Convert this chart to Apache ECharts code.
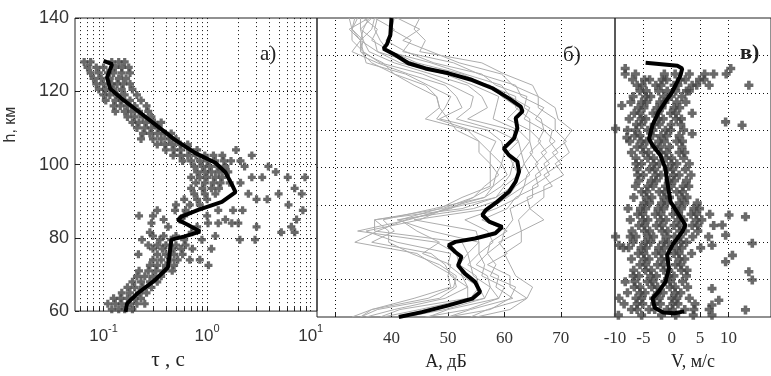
<!DOCTYPE html>
<html>
<head>
<meta charset="utf-8">
<script src="https://cdn.jsdelivr.net/npm/echarts@6/dist/echarts.min.js"></script>
<style>
  html, body { margin: 0; padding: 0; background: #fff; }
  #main { width: 771px; height: 376px; }
</style>
</head>
<body>
<div id="main"></div>
<script>
// dotted grid positions per panel
const tauGrid = [0.06, 0.07, 0.08, 0.09, 0.1, 0.2, 0.3, 0.4, 0.5, 0.6, 0.7, 0.8, 0.9, 1, 2, 3, 4, 5, 6, 7, 8, 9, 10]
const tauHGrid = [80, 100, 120]
const ampGrid = [30, 40, 50, 60, 70]
const ampHGrid = [70, 90, 100, 110, 130]
const velGrid = [-5, 0, 5, 10]
const velHGrid = [70, 80, 90, 100, 110, 120, 130]
const ampLabels = [40, 50, 60, 70]
const ampTicks = [30, 40, 50, 60, 70]
const velLabels = [-10, -5, 0, 5, 10]
const velTicks = [-5, 0, 5, 10]
const tauTicks = [0.06, 0.07, 0.08, 0.09, 0.1, 0.2, 0.3, 0.4, 0.5, 0.6, 0.7, 0.8, 0.9, 1, 2, 3, 4, 5, 6, 7, 8, 9]

// а) tau, s : scatter rows [h, [tau...]] and mean profile [tau, h]
const tauRows = [
  [128, [0.065, 0.075, 0.12, 0.14, 0.16]],
  [126.5, [0.07, 0.085, 0.1, 0.13, 0.15, 0.175]],
  [125, [0.075, 0.09, 0.11, 0.125, 0.15, 0.18]],
  [123.5, [0.08, 0.095, 0.115, 0.14, 0.165]],
  [122, [0.085, 0.1, 0.12, 0.135, 0.155, 0.18]],
  [120.5, [0.09, 0.105, 0.125, 0.15, 0.19]],
  [119, [0.1, 0.115, 0.135, 0.16, 0.21]],
  [117.5, [0.105, 0.13, 0.15, 0.18, 0.23]],
  [116, [0.125, 0.145, 0.17, 0.2, 0.26]],
  [114.5, [0.13, 0.16, 0.185, 0.22, 0.27]],
  [113, [0.17, 0.2, 0.24, 0.29]],
  [111.5, [0.19, 0.22, 0.26, 0.31, 0.36]],
  [110, [0.21, 0.25, 0.29, 0.34]],
  [108.5, [0.24, 0.28, 0.33, 0.39, 0.45]],
  [107, [0.23, 0.3, 0.36, 0.43, 0.5]],
  [105.5, [0.33, 0.39, 0.46, 0.55, 0.65]],
  [104, [0.4, 0.48, 0.56, 0.68, 0.8, 1.9]],
  [102.5, [0.47, 0.55, 0.65, 0.78, 0.95, 1.15, 1.4, 2.7]],
  [101, [0.58, 0.7, 0.85, 1.0, 1.2, 1.45, 1.7, 2.1]],
  [99.5, [0.75, 0.9, 1.05, 1.25, 1.5, 2.3, 3.9]],
  [98, [0.8, 0.95, 1.1, 1.3, 1.6, 4.6]],
  [96.5, [0.7, 0.85, 1.0, 1.2, 1.4, 2.7, 3.4, 6.0, 8.8]],
  [95, [0.78, 0.95, 1.15, 1.35, 1.65, 2.1]],
  [93.5, [0.7, 0.9, 1.1, 1.3, 7.0]],
  [92, [0.75, 0.95, 1.2, 2.5, 4.9, 8.2]],
  [90.5, [0.6, 0.8, 1.0, 3.0, 3.8]],
  [89, [0.5, 0.68, 0.85, 6.1]],
  [87.5, [0.33, 0.49, 0.62, 1.28, 1.78, 2.2, 8.4]],
  [86, [0.22, 0.3, 0.6, 1.0]],
  [85, [0.38, 0.55, 1.5, 7.3]],
  [84, [0.29, 1.02, 1.28, 1.73, 2.0]],
  [83, [0.42, 0.8, 3.0, 6.5]],
  [81.5, [0.28, 0.71, 5.2, 7.0]],
  [80.5, [0.3, 0.38, 0.5, 1.2]],
  [79.5, [0.235, 0.35, 0.45, 0.6, 0.89, 2.07, 2.9]],
  [78, [0.27, 0.33, 0.4, 0.5, 0.62]],
  [77, [0.3, 0.37, 0.46, 0.56, 0.72, 1.1]],
  [75.5, [0.217, 0.33, 0.4, 0.48, 0.58]],
  [74, [0.3, 0.36, 0.44, 0.52, 0.68, 0.85]],
  [72.5, [0.28, 0.33, 0.4, 0.48, 1.03]],
  [71, [0.22, 0.27, 0.32, 0.38, 0.46]],
  [69.5, [0.21, 0.25, 0.3, 0.36]],
  [68, [0.19, 0.23, 0.28, 0.33]],
  [66.5, [0.17, 0.2, 0.24, 0.29]],
  [65, [0.15, 0.18, 0.22, 0.26]],
  [63.5, [0.125, 0.145, 0.17, 0.2, 0.23]],
  [62, [0.11, 0.13, 0.15, 0.18, 0.21, 0.25]],
  [60.5, [0.12, 0.14, 0.16, 0.19]]
]
const tauMean = [
  [0.100, 128.3], [0.121, 127.4], [0.108, 123.8], [0.116, 120.7], [0.157, 117.5], [0.229, 114],
  [0.333, 110.4], [0.486, 106.8], [0.763, 103.2], [1.20, 100.5], [1.50, 97.9], [1.75, 94.3],
  [1.88, 92.5], [1.39, 89.8], [0.82, 87.6], [0.565, 85.8], [0.523, 84.9], [0.656, 83.5],
  [0.854, 81.7], [0.608, 80.4], [0.451, 79.5], [0.434, 75.5], [0.418, 71.9], [0.309, 68.3],
  [0.212, 64.8], [0.169, 62.1], [0.163, 59.8]
]

// б) A, dB : individual profiles at these heights, plus the mean
const ampH = [140, 137, 134, 131, 128, 125, 122, 119, 116, 113, 110, 107, 104, 101, 98, 95, 92, 89, 86, 83, 80, 77, 74, 71, 68, 65, 62, 60]
const ampProfiles = [
  [45, 44, 46, 45, 56, 60, 65, 66, 69, 69.5, 72, 70.5, 71.5, 69, 70.5, 67, 67, 64.5, 67, 63, 63, 60, 61, 62, 65, 64, 61, 55],
  [41, 45, 42, 47, 52, 59.5, 61.5, 66, 66, 69, 69, 71, 68.5, 70, 67, 68.5, 64, 64.5, 62.5, 63, 59, 60.5, 57, 61, 61, 64, 57, 54],
  [40.5, 40, 43.5, 42, 51, 55.5, 62, 63, 67, 65.5, 68.5, 68, 69.5, 67, 68, 65, 65, 61, 61.5, 60, 59.5, 57, 58.5, 57.5, 62, 61, 57.5, 50],
  [37, 40.5, 39, 42.5, 47.5, 56, 58.5, 64, 63.5, 66.5, 67, 69, 66.5, 68, 65.5, 66, 62, 60.5, 56, 60.5, 57.5, 57, 55, 59, 58.5, 61.5, 54, 50],
  [37.5, 37, 38, 39.5, 47, 53, 59.5, 61, 64.5, 63.5, 67, 66, 67.5, 65.5, 66.5, 63.5, 62.5, 58.5, 53, 57, 58, 55.5, 56.5, 56, 60, 59, 53.5, 46],
  [35, 37.5, 36.5, 40, 44.5, 52.5, 57, 62, 62, 64.5, 64.5, 66.5, 64.5, 66, 64, 63.5, 60.5, 57.5, 44, 55, 55.5, 55.5, 53.5, 57, 57.5, 59, 50, 46.5],
  [34.5, 34.5, 37, 37.5, 44, 50, 57.5, 59.5, 62.5, 60.5, 64.5, 64.5, 65, 63.5, 64.5, 62, 60.5, 54.5, 41, 47, 55.5, 53.5, 54, 54.5, 57.5, 56.5, 49.5, 42.5],
  [36, 35, 34.5, 37.5, 41.5, 49.5, 54.5, 59, 58.5, 58, 62.5, 64.5, 63, 63.5, 62.5, 61.5, 58.5, 52.5, 37, 37, 52.5, 53.5, 52, 55, 55.5, 56.5, 46, 41.5],
  [33.5, 33, 35, 36, 40.5, 47, 53.5, 56, 57, 53.5, 61.5, 62.5, 63, 61.5, 62.5, 60, 58.5, 50, 43, 34, 48, 51.5, 52, 52.5, 55.5, 54, 45, 38.5],
  [34, 33, 34.5, 35, 38, 45.5, 50.5, 54.5, 54, 51.5, 58.5, 62.5, 60.5, 61.5, 61, 59.5, 56.5, 49.5, 45, 35.5, 41, 50.5, 50, 52.5, 53.5, 53.5, 41.5, 38],
  [36, 32.5, 34.5, 33, 37.5, 43, 49.5, 51.5, 52.5, 48.5, 57, 59.5, 60, 59.5, 60.5, 58, 56.5, 47.5, 38.5, 40.5, 36.5, 47, 49.5, 50.5, 53.5, 49.5, 40.5, 35.5],
  [32.5, 33, 33, 35, 35.5, 42.5, 46.5, 50.5, 49.5, 48, 54, 58.5, 57.5, 59.5, 58.5, 58, 54.5, 50.5, 42.5, 37.5, 33.5, 44.5, 47.5, 51, 51.5, 48.5, 37.5, 34.5],
  [36.5, 34.5, 35, 34.5, 38.5, 40.5, 46, 48, 48.5, 46, 53.5, 55.5, 57.5, 57.5, 59, 56.5, 54.5, 49, 37, 39.5, 39.5, 43.5, 48.5, 51.5, 51, 46.5, 36.5, 33],
  [37, 36.5, 34.5, 34.5, 36.5, 40.5, 44, 48, 48.5, 50, 51.5, 55.5, 55.5, 57.5, 57.5, 57.5, 52.5, 48.5, 41.5, 44.5, 48.5, 45.5, 50.5, 50, 50.5, 44, 36.5, 34.5]
]
const ampMean = [
  [40, 140], [39.8, 135.5], [39.2, 133], [38.6, 131.8], [40.7, 130.1], [43, 127.9], [46, 126.5],
  [50.1, 125.2], [54.3, 123.4], [57.9, 121.2], [60.8, 118.5], [62.9, 116.3], [63.2, 115], [62, 113.2],
  [62.3, 110.5], [61.7, 107.8], [59.9, 105.1], [60.8, 103.3], [62.3, 101.6], [62.6, 98.9], [62, 96.2],
  [60.8, 93.5], [58.7, 90.8], [56.7, 88.6], [56.1, 87.3], [57.3, 85.5], [59.6, 84.1], [58.4, 82.4],
  [54.8, 81], [51.3, 80.1], [50.1, 79.2], [51.3, 77.4], [52.4, 76.1], [51.8, 73.8], [53, 71.6],
  [54.8, 69.4], [55.7, 66.7], [54.3, 64.9], [50.1, 63.1], [45.4, 61.3], [41.3, 60]
]

// в) V, m/s : scatter rows [h, [V...]], isolated points and mean
const velRows = [
  [125, [-8.2, -6.4, -1.3, 0.6, 3.1, 5.8, 7.4, 9.6]],
  [123.5, [-6.9, -4.8, -3.9, -1.7, -0.9, 1.5, 2.4, 4.9, 5.7]],
  [122, [-6.1, -5.2, -2.8, -1.9, 0.4, 1.1, 3.6, 4.4, 6.6]],
  [120.5, [-5.6, -4.5, -2.3, -0.8, 0.7, 2.6, 3.1]],
  [119, [-6.8, -4.6, -3.7, -1.4, -0.1, 1.8]],
  [117.5, [-7.2, -5.3, -4.4, -2.1, -1.2, 0.9, 2.5]],
  [116, [-5.9, -4.9, -2.6, -1.7, 0.4, 1.4]],
  [114.5, [-6.6, -5.6, -3.3, -2.4, -0.2, 0.7, 3.6]],
  [113, [-7.5, -5.4, -4.6, -2.4, -1.5, 0.8, 1.7]],
  [111.5, [-6.2, -5.3, -3.1, -2.2, -0.1, 1.6]],
  [110, [-7.8, -6.3, -4.2, -3.3, -1.1, -0.2, 2.1]],
  [108.5, [-6.5, -5.6, -3.4, -1.9, -0.9, 1.3]],
  [107, [-7.4, -5.4, -4.4, -2.3, -1.3, 0.9, 1.9]],
  [105.5, [-6.1, -5.1, -3, -2, -0.4, 1.8]],
  [104, [-7.1, -5, -4.1, -1.9, -0.9, 1.3, 2.3]],
  [102.5, [-6.3, -4.2, -3.2, -1, 0, 2.1]],
  [101, [-6.3, -5.3, -3.2, -2.2, -0.1, 0.9, 3.1]],
  [99.5, [-6.1, -3.9, -3, -0.8, 0.2, 2.4]],
  [98, [-6, -5, -2.8, -1.9, 0.3, 1.3, 3.4]],
  [96.5, [-5.8, -3.6, -2.7, -0.5, 0.5, 2.6]],
  [95, [-6.4, -4.2, -3.3, -1.1, -0.1, 2, 3]],
  [93.5, [-5.3, -4.4, -2.2, -1.2, 0.9, 1.9]],
  [92, [-6.7, -4.5, -3.5, -1.4, -0.4, 1.7, 2.7]],
  [90.5, [-4.9, -3.9, -1.8, -0.8, 1.3, 2.3, 4.5]],
  [89, [-7.7, -5.5, -4.6, -2.4, -1.4, 0.7, 1.7, 3.9, 4.9]],
  [87.5, [-6, -5.1, -2.9, -1.9, 0.2, 1.2, 3.4, 4.4, 6.7]],
  [86, [-7.3, -5.1, -4.2, -2, -1, 1.1, 2.1, 4.3, 5.3]],
  [84.5, [-5.8, -4.8, -2.7, -1.7, 0.4, 1.4, 3.6, 4.6, 7.4]],
  [83, [-7, -4.8, -3.9, -1.7, -0.7, 1.4, 2.4, 4.6]],
  [81.5, [-7.3, -6.3, -4.2, -3.2, -1, 0.5, 1.5, 3.7, 6.5]],
  [80, [-6.8, -4.7, -3.7, -1.5, -0.6, 1.6, 2.6]],
  [78.5, [-8.5, -7.6, -5.4, -4.5, -2.3, -1.3, 0.8, 1.8, 5.1]],
  [77, [-5.9, -4.9, -2.8, -1.8, 0.4, 1.3, 3.5]],
  [75.5, [-7.1, -4.9, -4, -1.8, -0.8, 1.3, 2.3]],
  [74, [-5.6, -4.6, -2.5, -1.5, 0.7, 1.6]],
  [72.5, [-6.7, -4.6, -3.6, -1.4, -0.5, 1.7, 2.7]],
  [71, [-6.8, -5.8, -3.7, -2.7, -0.5, 0.4, 2.6]],
  [69.5, [-6.5, -4.3, -3.3, -1.2, -0.2, 1.9]],
  [68, [-6.6, -5.6, -3.5, -2.5, -0.3, 0.6, 2.8]],
  [66.5, [-7.8, -5.6, -4.7, -2.5, -1.5, 0.6, 1.6]],
  [65, [-6.3, -5.3, -3.2, -2.2, 0, 0.9, 3.1]],
  [63.5, [-8.4, -6.1, -5.1, -3, -2, 0.2, 1.1, 4.1]],
  [62, [-7.1, -6.1, -4, -3, -0.8, 0.1, 2.3, 3.9, 6.6]],
  [60.5, [-9.4, -5.3, -1.8, 0.7, 3.8, 7.1]]
]
const velOutliers = [
  [-8.2, 126.5], [10.4, 126.5], [13.6, 122], [-8.8, 116.6], [-9.9, 110.4], [-7.9, 108], [9.5, 112.2],
  [12.4, 111.3], [3.6, 109], [10.1, 87.3], [13, 86.8], [8.9, 84.6], [9.5, 81.9], [-9.9, 81.5],
  [-9.3, 79.2], [7.1, 79.2], [14.2, 79.7], [9.5, 74.8], [13.6, 72.1], [10.7, 76.5], [-8.2, 69.4],
  [-9.3, 65], [7.1, 67.6], [8.3, 64.5], [14.2, 69.9], [13, 61.9], [7.1, 63.2]
]
const velMean = [
  [-4.6, 128], [1, 127.2], [1.85, 126.5], [1.55, 124.7], [0.97, 122.9], [0.09, 120.2], [-1.1, 117.6],
  [-2.3, 114.9], [-3.4, 111.3], [-4, 107.7], [-3.4, 106], [-2, 103.3], [-1.1, 99.7], [-0.8, 96.2],
  [-0.2, 90.8], [1.3, 87.3], [2.4, 84.6], [1.85, 82.8], [0.1, 79.2], [-0.8, 76.6], [-0.5, 73],
  [-1.1, 69.4], [-2.3, 66.8], [-3.4, 65], [-3, 62.5], [-1.5, 61.2], [0.5, 61], [2.2, 61.5]
]

const flatRows = rows => rows.flatMap(([h, xs]) => xs.map(x => [x, h]))
const plus = 'path://M3,0H7V3H10V7H7V10H3V7H0V3H3Z'
const serif = 'Liberation Serif'
const sans = 'Liberation Sans'

function gridLines(xs, ys, i) {
  return {
    type: 'line', xAxisIndex: i, yAxisIndex: i, data: [], silent: true,
    markLine: {
      silent: true, z: 1, symbol: ['none', 'none'], label: { show: false },
      lineStyle: { type: [1, 3], color: '#111', width: 1 },
      emphasis: { disabled: true },
      data: xs.map(v => ({ xAxis: v })).concat(ys.map(v => ({ yAxis: v })))
    }
  }
}

function hAxis(i, show) {
  return {
    type: 'value', gridIndex: i, min: 60, max: 140, interval: 20,
    show: show,
    axisLine: { show: false },
    axisTick: { show: show, inside: true, length: 4, lineStyle: { color: '#222' } },
    axisLabel: { show: show, margin: 6, fontFamily: sans, fontSize: 18, color: '#333' },
    splitLine: { show: false },
    name: show ? 'h, км' : '', nameLocation: 'middle', nameRotate: 90, nameGap: 56,
    nameTextStyle: { fontFamily: sans, fontSize: 16, color: '#333', padding: [0, 0, 0, 80] }
  }
}

const chart = echarts.init(document.getElementById('main'), null, { renderer: 'canvas' })

chart.setOption({
  animation: false,
  backgroundColor: '#fff',
  title: [
    { text: 'а)', left: 255, top: 39, textStyle: { fontFamily: serif, fontSize: 21, fontWeight: 'normal', color: '#222' } },
    { text: 'б)', left: 558, top: 40, textStyle: { fontFamily: serif, fontSize: 21, fontWeight: 'normal', color: '#222' } },
    { text: 'в)', left: 735, top: 37, textStyle: { fontFamily: serif, fontSize: 22, fontWeight: 'bold', color: '#222' } }
  ],
  grid: [
    { left: 75, top: 18, width: 242, height: 299, show: true, borderColor: '#222', borderWidth: 1 },
    { left: 317, top: 18, width: 298, height: 299, show: true, borderColor: '#222', borderWidth: 1 },
    { left: 615, top: 18, width: 157, height: 299, show: true, borderColor: '#222', borderWidth: 1 }
  ],
  xAxis: [
    {
      type: 'log', logBase: 10, gridIndex: 0, min: 0.053, max: 11.5,
      axisLine: { show: false },
      axisTick: { inside: true, length: 4, customValues: tauTicks, lineStyle: { color: '#222' } },
      splitLine: { show: false },
      axisLabel: {
        margin: 12, showMinLabel: false, showMaxLabel: false,
        formatter: v => '{b|10}{s|' + Math.round(Math.log10(v)) + '}',
        rich: {
          b: { fontFamily: sans, fontSize: 17, color: '#333', verticalAlign: 'bottom', lineHeight: 22 },
          s: { fontFamily: sans, fontSize: 11, color: '#333', verticalAlign: 'top', lineHeight: 22 }
        }
      },
      name: 'τ , с', nameLocation: 'middle', nameGap: 34,
      nameTextStyle: { fontFamily: serif, fontSize: 21, color: '#222', padding: [0, 56, 0, 0] }
    },
    {
      type: 'value', gridIndex: 1, min: 26.8, max: 79.6,
      axisLine: { show: false },
      axisTick: { inside: true, length: 4, customValues: ampTicks, lineStyle: { color: '#222' } },
      splitLine: { show: false },
      axisLabel: { customValues: ampLabels, margin: 13, fontFamily: serif, fontSize: 17, color: '#333' },
      name: 'A, дБ', nameLocation: 'middle', nameGap: 36,
      nameTextStyle: { fontFamily: serif, fontSize: 18, color: '#222', padding: [0, 40, 0, 0] }
    },
    {
      type: 'value', gridIndex: 2, min: -10, max: 17.5,
      axisLine: { show: false },
      axisTick: { inside: true, length: 4, customValues: velTicks, lineStyle: { color: '#222' } },
      splitLine: { show: false },
      axisLabel: { customValues: velLabels, margin: 13, fontFamily: serif, fontSize: 17, color: '#333' },
      name: 'V, м/с', nameLocation: 'middle', nameGap: 36,
      nameTextStyle: { fontFamily: serif, fontSize: 18, color: '#222' }
    }
  ],
  yAxis: [hAxis(0, true), hAxis(1, false), hAxis(2, false)],
  series: [
    gridLines(tauGrid, tauHGrid, 0),
    gridLines(ampGrid, ampHGrid, 1),
    gridLines(velGrid, velHGrid, 2),
    {
      type: 'scatter', xAxisIndex: 0, yAxisIndex: 0, z: 2, silent: true,
      symbol: plus, symbolSize: 8, itemStyle: { color: '#454545' },
      data: flatRows(tauRows)
    },
    {
      type: 'line', xAxisIndex: 0, yAxisIndex: 0, z: 3, silent: true, symbol: 'none',
      lineStyle: { color: '#000', width: 4 }, data: tauMean
    },
    ...ampProfiles.map(p => ({
      type: 'line', xAxisIndex: 1, yAxisIndex: 1, z: 2, silent: true, symbol: 'none',
      lineStyle: { color: '#adadad', width: 1 },
      data: p.map((a, i) => [a, ampH[i]])
    })),
    {
      type: 'line', xAxisIndex: 1, yAxisIndex: 1, z: 3, silent: true, symbol: 'none',
      lineStyle: { color: '#000', width: 4 }, data: ampMean
    },
    {
      type: 'scatter', xAxisIndex: 2, yAxisIndex: 2, z: 2, silent: true,
      symbol: plus, symbolSize: 9, itemStyle: { color: '#454545' },
      data: flatRows(velRows).concat(velOutliers)
    },
    {
      type: 'line', xAxisIndex: 2, yAxisIndex: 2, z: 3, silent: true, symbol: 'none',
      lineStyle: { color: '#000', width: 4 }, data: velMean
    }
  ]
})
</script>
</body>
</html>
